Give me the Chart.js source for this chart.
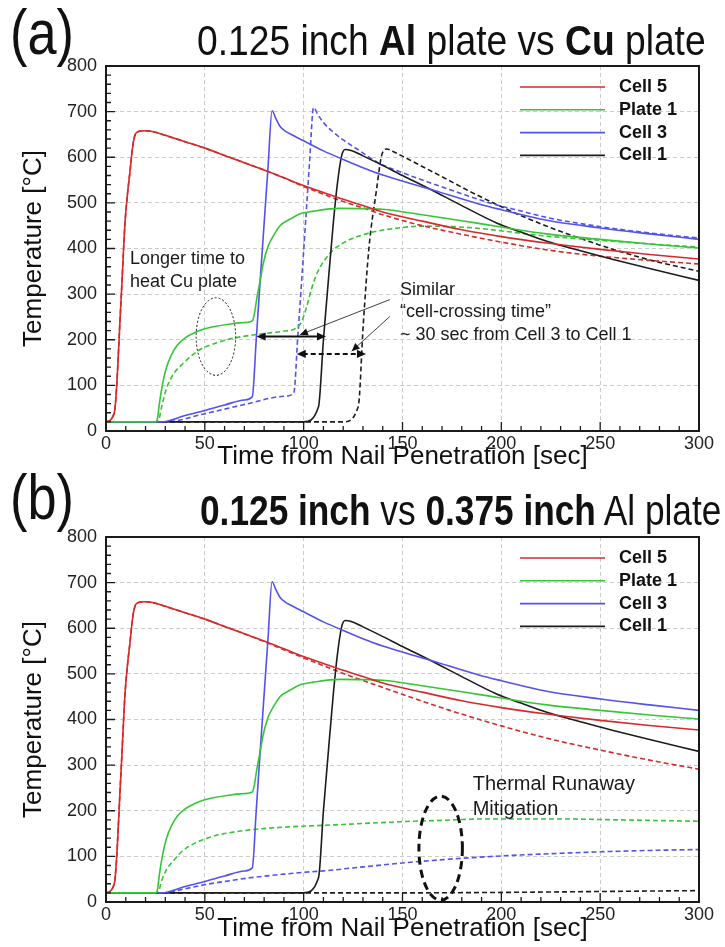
<!DOCTYPE html>
<html>
<head>
<meta charset="utf-8">
<script src="https://cdn.jsdelivr.net/npm/chart.js@4.4.1/dist/chart.umd.min.js"></script>
<style>
  body { margin: 0; background: #fff; }
  #page { position: relative; width: 725px; height: 947px; overflow: hidden; font-family: "Liberation Sans", Arial, sans-serif; color: #111; }
  canvas { position: absolute; left: 0; }
  #chartA { top: 0; }
  #chartB { top: 471px; }
  .tag, .head { position: absolute; line-height: 1; white-space: nowrap; transform-origin: 0 0; }
  .tag { font-size: 63px; transform: scaleX(0.83); }
  .head { font-size: 43px; }
</style>
</head>
<body>
<div id="page">
  <canvas id="chartA" width="725" height="480"></canvas>
  <canvas id="chartB" width="725" height="476"></canvas>
  <div class="tag" style="left:10px; top:1px">(a)</div>
  <div class="head" style="left:197px; top:19px; transform:scaleX(0.865)">0.125 inch <b>Al</b> plate vs <b>Cu</b> plate</div>
  <div class="tag" style="left:10px; top:466px">(b)</div>
  <div class="head" style="left:200px; top:489px; transform:scaleX(0.82)"><b>0.125 inch</b> vs <b>0.375 inch</b> Al plate</div>
</div>

<script>
/* axis ranges / ticks */
const xRange = [0, 300], xMajor = 50, xMinor = 10;
const yRange = [0, 800], yMajor = 100, yMinor = 20;

/* [time s, temperature C] */
const cell5 = [[0,20],[2,23],[3.5,32],[4.5,48],[5.5,105],[6.2,163],[7,235],[7.9,310],[8.8,390],[9.6,455],[11,525],[12.1,567],[13,605],[13.8,632],[14.8,650],[16,656],[20,658],[25,655],[30,648],[40,634],[50,620],[60,604],[70,588],[80,572],[90,555],[100,538],[110,523],[120,508],[130,494],[140,480],[160,460],[180,441],[200,426],[223,412],[250,398],[275,387],[300,377]];
const plate1 = [[0,20],[25,20],[26,26],[27,60],[28.5,100],[30.5,138],[33,166],[36,188],[40,204],[45,216],[50,224],[55,229],[62,234],[68,237],[74,241],[75,255],[76.2,288],[78,330],[79.6,368],[82,405],[84.6,427],[88,450],[93,464],[99,477],[105,482],[118,488],[133,487],[140,486],[160,474],[180,461],[200,447],[223,432],[250,420],[275,410],[300,401]];
const cell3 = [[0,20],[28,20],[40,34],[50,45],[60,57],[70,68],[74,75],[76,200],[78,330],[80,455],[82,580],[84,702],[86,684],[88,668],[90.5,658],[95,647],[100,636],[110,614],[120,595],[130,577],[140,561],[164,530],[189,497],[200,485],[223,462],[250,445],[275,432],[300,420]];
const cell1 = [[0,20],[100,20],[107.5,53],[110,200],[112.5,330],[115,456],[117,540],[119.2,603],[121,617],[124,615],[130,603],[138.6,585],[150,560],[164,530],[180,494],[197.6,456],[210,436],[223,416],[240,395],[256.6,376],[275,356],[300,330]];

/* dashed: Cu plate (a) */
const cell5CuA = [[0,20],[2,23],[3.5,32],[4.5,48],[5.5,105],[6.2,163],[7,235],[7.9,310],[8.8,390],[9.6,455],[11,525],[12.1,567],[13,605],[13.8,632],[14.8,650],[16,656],[20,658],[25,655],[30,648],[40,634],[50,620],[60,604],[70,588],[80,572],[90,555],[100,536],[110,519],[120,503],[130,489],[140,474],[160,450],[180,431],[200,414],[223,397],[250,383],[275,374],[300,366]];
const plate1CuA = [[0,20],[25,20],[26.5,22],[28,50],[30.5,92],[34,124],[39,148],[47,177],[55,192],[64,203],[72,209],[81,214],[90,219],[96,225],[99,240],[101.5,272],[104,312],[107,348],[111,377],[115,397],[123,419],[130,430],[137,438],[148,445],[159,449],[175,448],[189,444],[205,436],[223,427],[250,418],[275,410],[300,403]];
const cell3CuA = [[0,20],[30,20],[50,38],[70,58],[90,76],[95,83],[97,205],[99,330],[101,460],[103,590],[105,709],[107,695],[110,676],[115,655],[120,638],[127,618],[138.6,586],[150,566],[164,544],[180,520],[194,500],[210,482],[223,468],[250,448],[275,434],[300,423]];
const cell1CuA = [[0,20],[120,20],[127.6,53],[130.2,237],[133,400],[136.9,530],[139.4,603],[142,618],[145,613],[155,591],[172.3,552],[185,523],[199.3,493],[210,472],[223,449],[240,422],[256.6,398],[275,375],[300,350]];

/* dashed: 0.375 inch Al plate (b) */
const cell5ThickB = [[0,20],[2,23],[3.5,32],[4.5,48],[5.5,105],[6.2,163],[7,235],[7.9,310],[8.8,390],[9.6,455],[11,525],[12.1,567],[13,605],[13.8,632],[14.8,650],[16,656],[20,658],[25,655],[30,648],[40,634],[50,620],[60,604],[70,588],[80,571],[90,553],[100,535],[110,518],[120,501],[135,478],[150,455],[174,420],[200,386],[225,357],[250,333],[275,311],[300,291]];
const plate1ThickB = [[0,20],[25,20],[26.5,22],[28,45],[30.5,70],[35,95],[39,113],[45,129],[52.6,142],[60,150],[72.8,158],[90,164],[115,169],[130,172],[148.7,176],[170,179],[191,182],[230,182],[260,180],[300,177]];
const cell3ThickB = [[0,20],[29,20],[40,29],[50,38],[60,45],[72.8,53],[90,61],[100,65],[115,70],[123,74],[135,79],[148.7,85],[165,91],[180.7,96],[200,101],[220,105],[250,110],[275,113],[300,115]];
const cell1ThickB = [[0,20],[150,20],[200,21],[250,23],[300,25]];

const FONT = '"Liberation Sans", Arial, sans-serif';
const colors = { cell5: '#d62a2a', plate1: '#34c634', cell3: '#5252ee', cell1: '#1c1c1c' };

function series(label, data, color, dashed) {
  return {
    label: label,
    data: data.map(p => ({ x: p[0], y: p[1] })),
    borderColor: color,
    borderWidth: 1.6,
    borderDash: dashed ? [5, 3] : [],
    pointRadius: 0,
    fill: false,
    cubicInterpolationMode: 'monotone',
    showInKey: !dashed
  };
}

function head(ctx, fx, fy, tx, ty, size) {
  const a = Math.atan2(ty - fy, tx - fx);
  const w = size * 0.45;
  ctx.beginPath();
  ctx.moveTo(tx, ty);
  ctx.lineTo(tx - size * Math.cos(a) - w * Math.sin(a), ty - size * Math.sin(a) + w * Math.cos(a));
  ctx.lineTo(tx - size * Math.cos(a) + w * Math.sin(a), ty - size * Math.sin(a) - w * Math.cos(a));
  ctx.closePath();
  ctx.fill();
}

// inward ticks, frame, key and notes
const overlay = {
  id: 'overlay',
  afterDraw(chart, args, opts) {
    const { ctx, chartArea: a, scales: { x, y } } = chart;
    const px = v => x.getPixelForValue(v), py = v => y.getPixelForValue(v);
    ctx.save();
    ctx.strokeStyle = '#1a1a1a';
    ctx.lineWidth = 1.3;
    ctx.beginPath();
    for (let v = x.min; v <= x.max; v += xMinor) {
      const len = v % xMajor === 0 ? 9 : 5;
      ctx.moveTo(px(v), a.bottom); ctx.lineTo(px(v), a.bottom - len);
    }
    for (let v = y.min; v <= y.max; v += yMinor) {
      const len = v % yMajor === 0 ? 9 : 5;
      ctx.moveTo(a.left, py(v)); ctx.lineTo(a.left + len, py(v));
    }
    ctx.stroke();
    ctx.lineWidth = 2;
    ctx.strokeRect(a.left, a.top, a.right - a.left, a.bottom - a.top);

    // key
    ctx.font = 'bold 18px ' + FONT;
    ctx.textBaseline = 'middle';
    ctx.textAlign = 'left';
    chart.data.datasets.filter(d => d.showInKey).forEach((d, i) => {
      const ky = a.top + 21 + i * 22.8;
      ctx.strokeStyle = d.borderColor;
      ctx.lineWidth = 1.6;
      ctx.beginPath(); ctx.moveTo(a.right - 179, ky); ctx.lineTo(a.right - 94, ky); ctx.stroke();
      ctx.fillStyle = '#111';
      ctx.fillText(d.label, a.right - 80, ky);
    });

    (opts.notes || []).forEach(n => {
      ctx.save();
      ctx.strokeStyle = ctx.fillStyle = '#111';
      ctx.lineWidth = n.width || 1;
      ctx.setLineDash(n.dash || []);
      if (n.type === 'text') {
        ctx.font = (n.size || 18) + 'px ' + FONT;
        ctx.textBaseline = 'middle';
        ctx.textAlign = 'left';
        ctx.fillStyle = '#1a1a1a';
        ctx.fillText(n.text, px(n.x), py(n.y));
      } else if (n.type === 'ellipse') {
        ctx.beginPath();
        ctx.ellipse(px(n.x), py(n.y), Math.abs(px(n.x + n.rx) - px(n.x)), Math.abs(py(n.y + n.ry) - py(n.y)), 0, 0, Math.PI * 2);
        ctx.stroke();
      } else if (n.type === 'span') {
        const yy = py(n.y), x1 = px(n.x1), x2 = px(n.x2);
        ctx.beginPath(); ctx.moveTo(x1 + 6, yy); ctx.lineTo(x2 - 6, yy); ctx.stroke();
        ctx.setLineDash([]);
        head(ctx, x2 - 10, yy, x2, yy, 9);
        head(ctx, x1 + 10, yy, x1, yy, 9);
      } else if (n.type === 'pointer') {
        const x1 = px(n.x1), y1 = py(n.y1), x2 = px(n.x2), y2 = py(n.y2);
        ctx.beginPath(); ctx.moveTo(x1, y1); ctx.lineTo(x2, y2); ctx.stroke();
        head(ctx, x1, y1, x2, y2, 8);
      }
      ctx.restore();
    });
    ctx.restore();
  }
};

function makePanel(id, height, titlePad, dashed, notes) {
  const tickFont = { family: FONT, size: 18 };
  const titleFont = { family: FONT, size: 26 };
  return new Chart(document.getElementById(id), {
    type: 'line',
    data: {
      datasets: [
        series('Cell 5', cell5, colors.cell5, false),
        series('Plate 1', plate1, colors.plate1, false),
        series('Cell 3', cell3, colors.cell3, false),
        series('Cell 1', cell1, colors.cell1, false),
        series('Cell 5', dashed[0], colors.cell5, true),
        series('Plate 1', dashed[1], colors.plate1, true),
        series('Cell 3', dashed[2], colors.cell3, true),
        series('Cell 1', dashed[3], colors.cell1, true)
      ]
    },
    options: {
      responsive: false,
      animation: false,
      layout: { padding: { top: 66, right: 26, left: 0, bottom: 0 } },
      plugins: {
        legend: { display: false },
        tooltip: { enabled: false },
        overlay: { notes: notes }
      },
      scales: {
        x: {
          type: 'linear', min: xRange[0], max: xRange[1],
          ticks: { stepSize: xMajor, padding: 2, maxRotation: 0, font: tickFont, color: '#222' },
          grid: { color: '#cbcbcb', lineWidth: 1, drawTicks: false, borderDash: [4, 3] },
          border: { display: false, dash: [4, 3] },
          title: { display: true, text: 'Time from Nail Penetration [sec]', font: titleFont, color: '#111', padding: { top: 0, bottom: titlePad } },
          afterFit: s => { s.height = height - 431; }
        },
        y: {
          type: 'linear', min: yRange[0], max: yRange[1],
          ticks: { stepSize: yMajor, padding: 9, font: tickFont, color: '#222' },
          grid: { color: '#cbcbcb', lineWidth: 1, drawTicks: false, borderDash: [4, 3] },
          border: { display: false, dash: [4, 3] },
          title: { display: true, text: 'Temperature [°C]', font: titleFont, color: '#111', padding: { top: 18, bottom: 0 } },
          afterFit: s => { s.width = 106; }
        }
      }
    },
    plugins: [overlay]
  });
}

const notesA = [
  { type: 'text', x: 12.1, y: 376, text: 'Longer time to' },
  { type: 'text', x: 12.1, y: 327, text: 'heat Cu plate' },
  { type: 'ellipse', x: 55.6, y: 207, rx: 10, ry: 85, dash: [2, 2], width: 1 },
  { type: 'span', x1: 76.2, x2: 111.3, y: 207, width: 2 },
  { type: 'span', x1: 96.5, x2: 131.5, y: 169, width: 2, dash: [5, 3] },
  { type: 'pointer', x1: 143.6, y1: 288, x2: 98.1, y2: 211, width: 0.8 },
  { type: 'pointer', x1: 143.6, y1: 251, x2: 124.3, y2: 175, width: 0.8 },
  { type: 'text', x: 148.7, y: 310, text: 'Similar' },
  { type: 'text', x: 148.7, y: 261, text: '\u201Ccell-crossing time\u201D' },
  { type: 'text', x: 148.7, y: 211, text: '~ 30 sec from Cell 3 to Cell 1' }
];

const notesB = [
  { type: 'text', x: 185.5, y: 257, text: 'Thermal Runaway', size: 20 },
  { type: 'text', x: 185.5, y: 202, text: 'Mitigation', size: 20 },
  { type: 'ellipse', x: 169.3, y: 118, rx: 11, ry: 114, dash: [8, 5], width: 3 }
];

makePanel('chartA', 480, 8, [cell5CuA, plate1CuA, cell3CuA, cell1CuA], notesA);
makePanel('chartB', 476, 3, [cell5ThickB, plate1ThickB, cell3ThickB, cell1ThickB], notesB);
</script>
</body>
</html>
